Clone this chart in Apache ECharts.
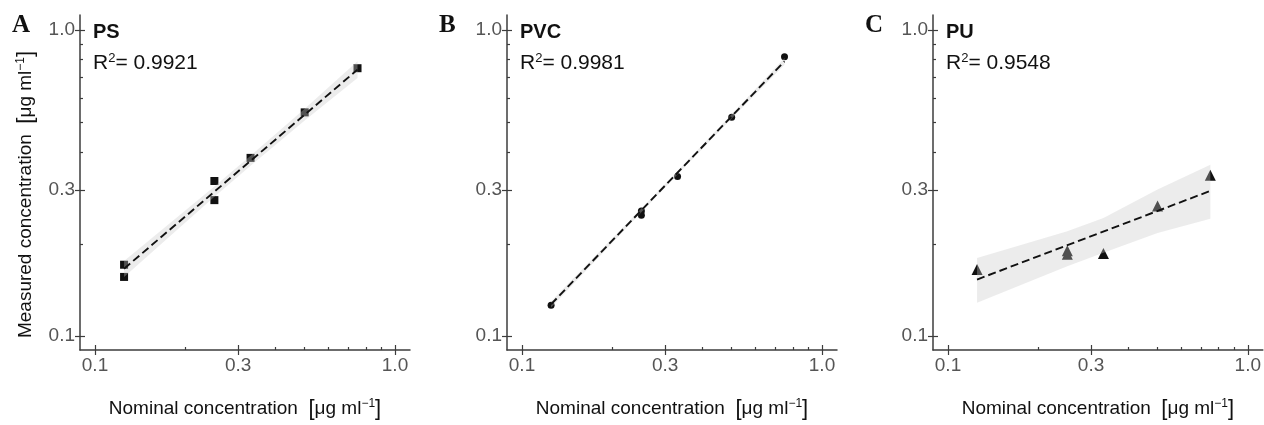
<!DOCTYPE html>
<html>
<head>
<meta charset="utf-8">
<script src="https://cdn.jsdelivr.net/npm/echarts@6/dist/echarts.min.js"></script>
<style>
  html, body { margin: 0; padding: 0; background: #fff; }
  #chart { width: 1264px; height: 425px; }
</style>
</head>
<body>
<div id="chart"></div>
<script>
var majorTicks = [0.1, 0.3, 1.0];
var minorTicks = [0.2, 0.4, 0.5, 0.6, 0.7, 0.8, 0.9];

// PS
var psX = [0.125, 0.125, 0.25, 0.25, 0.33, 0.5, 0.75];
var psY = [0.171, 0.156, 0.321, 0.278, 0.382, 0.538, 0.75];
var psFitX = [0.125, 0.75];
var psFitY = [0.166, 0.742];
var psBandX = [0.125, 0.25, 0.33, 0.5, 0.75];
var psBandLo = [0.156, 0.285, 0.360, 0.506, 0.697];
var psBandHi = [0.176, 0.308, 0.388, 0.553, 0.790];

// PVC
var pvcX = [0.125, 0.25, 0.25, 0.33, 0.5, 0.75];
var pvcY = [0.126, 0.256, 0.248, 0.332, 0.519, 0.818];
var pvcFitX = [0.125, 0.75];
var pvcFitY = [0.127, 0.79];
var pvcBandX = [0.125, 0.25, 0.33, 0.5, 0.75];
var pvcBandLo = [0.124, 0.254, 0.337, 0.514, 0.770];
var pvcBandHi = [0.130, 0.261, 0.346, 0.530, 0.810];

// PU
var puX = [0.125, 0.25, 0.25, 0.33, 0.5, 0.75];
var puY = [0.165, 0.19, 0.185, 0.186, 0.266, 0.335];
var puFitX = [0.125, 0.75];
var puFitY = [0.153, 0.298];
var puBandX = [0.125, 0.25, 0.33, 0.5, 0.75];
var puBandLo = [0.1285, 0.169, 0.187, 0.217, 0.2415];
var puBandHi = [0.180, 0.220, 0.243, 0.301, 0.363];

var panels = [
  { letter: 'A', name: 'PS', r2: '0.9921', symbol: 'rect', size: 8,
    x: psX, y: psY, fitX: psFitX, fitY: psFitY, bx: psBandX, lo: psBandLo, hi: psBandHi },
  { letter: 'B', name: 'PVC', r2: '0.9981', symbol: 'circle', size: 7,
    x: pvcX, y: pvcY, fitX: pvcFitX, fitY: pvcFitY, bx: pvcBandX, lo: pvcBandLo, hi: pvcBandHi },
  { letter: 'C', name: 'PU', r2: '0.9548', symbol: 'triangle', size: 11,
    x: puX, y: puY, fitX: puFitX, fitY: puFitY, bx: puBandX, lo: puBandLo, hi: puBandHi }
];

var gridLefts = [80, 507, 933];
var FONT = '"Liberation Sans", Arial, sans-serif';
var AXIS_COLOR = '#3c3c3c';
var xMin = Math.pow(10, -1.05), xMax = Math.pow(10, 0.05);
var yMin = Math.pow(10, -1.0456), yMax = Math.pow(10, 0.0489);

var unitRich = {
  n: { fontSize: 19, color: '#111', fontFamily: FONT },
  b: { fontSize: 22, color: '#111', fontFamily: FONT },
  s: { fontSize: 12, color: '#111', fontFamily: FONT, padding: [0, 0, 10, 0] }
};

var grids = [], xAxes = [], yAxes = [], series = [], graphics = [];

function makeAxis(dim, g, kind) {
  var ax = {
    type: 'log', logBase: 10, gridIndex: g,
    min: dim === 'x' ? xMin : yMin,
    max: dim === 'x' ? xMax : yMax,
    position: dim === 'x' ? 'bottom' : 'left',
    splitLine: { show: false },
    axisLine: { show: kind === 'main', onZero: false, lineStyle: { color: AXIS_COLOR, width: 1.5 } },
    axisTick: { show: true, inside: kind !== 'main', length: kind === 'minor' ? 3 : 5,
      customValues: kind === 'minor' ? minorTicks : majorTicks,
      lineStyle: { color: AXIS_COLOR, width: 1.2 } },
    axisLabel: { show: kind === 'main', customValues: majorTicks,
      margin: dim === 'x' ? 6 : 5,
      color: '#555', fontSize: 19, fontFamily: FONT,
      formatter: function (v) { return Number(v).toFixed(1); } }
  };
  if (kind === 'main' && dim === 'x') {
    ax.name = '{n|Nominal concentration  }{b|[}{n|μg ml}{s|−1}{b|]}';
    ax.nameLocation = 'middle';
    ax.nameGap = 48;
    ax.nameTextStyle = { rich: unitRich };
  }
  if (kind === 'main' && dim === 'y' && g === 0) {
    ax.name = '{n|Measured concentration  }{b|[}{n|μg ml}{s|−1}{b|]}';
    ax.nameLocation = 'middle';
    ax.nameGap = 43;
    ax.nameRotate = 90;
    ax.nameTextStyle = { rich: unitRich, padding: [0, 24, 0, 0] };
  }
  return ax;
}

function bandRenderer(p) {
  return function (params, api) {
    if (params.dataIndex !== 0) return null;
    var pts = [];
    for (var i = 0; i < p.bx.length; i++) pts.push(api.coord([p.bx[i], p.hi[i]]));
    for (var j = p.bx.length - 1; j >= 0; j--) pts.push(api.coord([p.bx[j], p.lo[j]]));
    return { type: 'polygon', shape: { points: pts },
      style: { fill: 'rgba(200,200,200,0.35)' } };
  };
}

panels.forEach(function (p, g) {
  grids.push({ left: gridLefts[g], top: 15, width: 330, height: 336 });
  ['main', 'inner', 'minor'].forEach(function (k) {
    xAxes.push(makeAxis('x', g, k));
    yAxes.push(makeAxis('y', g, k));
  });
  var xi = g * 3, yi = g * 3;

  series.push({
    type: 'scatter', xAxisIndex: xi, yAxisIndex: yi, z: 2,
    symbol: p.symbol, symbolSize: p.size,
    itemStyle: { color: '#111', opacity: 1 },
    data: p.x.map(function (v, i) { return [v, p.y[i]]; })
  });
  series.push({
    type: 'custom', xAxisIndex: xi, yAxisIndex: yi, z: 3,
    renderItem: bandRenderer(p),
    data: p.bx.map(function (v, i) { return [v, p.lo[i], p.hi[i]]; }),
    encode: { x: 0, y: [1, 2] },
    silent: true
  });
  series.push({
    type: 'line', xAxisIndex: xi, yAxisIndex: yi, z: 4,
    symbol: 'none',
    lineStyle: { color: '#111', width: 1.9, type: [8, 4] },
    data: p.fitX.map(function (v, i) { return [v, p.fitY[i]]; })
  });

  var gl = gridLefts[g];
  graphics.push({
    type: 'text', left: gl - 68, top: 13,
    style: { text: p.letter, font: 'bold 25px "Liberation Serif", "Times New Roman", serif', fill: '#111' }
  });
  graphics.push({
    type: 'text', left: gl + 13, top: 22,
    style: { text: p.name, font: 'bold 20px ' + FONT, fill: '#111' }
  });
  graphics.push({
    type: 'text', left: gl + 13, top: 52,
    style: {
      text: '{a|R}{s|2}{a|= ' + p.r2 + '}',
      rich: {
        a: { fontSize: 21, fontFamily: FONT, fill: '#111' },
        s: { fontSize: 13, fontFamily: FONT, fill: '#111', padding: [0, 0, 10, 0] }
      }
    }
  });
});

var chart = echarts.init(document.getElementById('chart'));
chart.setOption({
  animation: false,
  backgroundColor: '#fff',
  grid: grids,
  xAxis: xAxes,
  yAxis: yAxes,
  series: series,
  graphic: graphics
});
</script>
</body>
</html>
